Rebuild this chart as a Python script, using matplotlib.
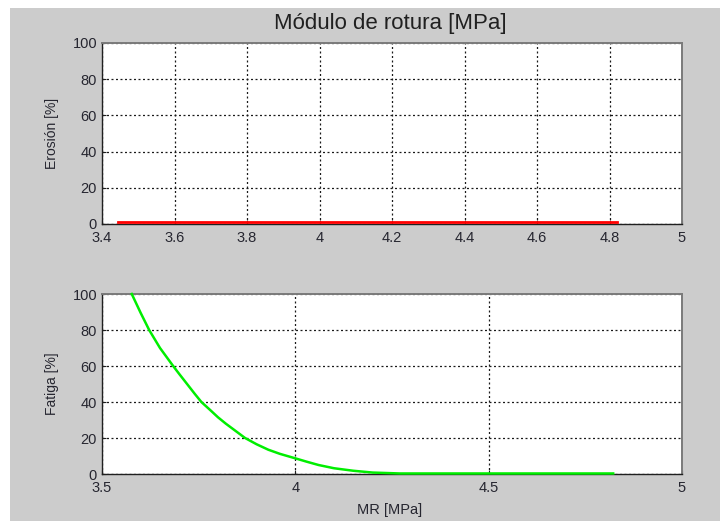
import matplotlib
matplotlib.use("Agg")
import matplotlib.pyplot as plt
from matplotlib.patches import Rectangle

plt.rcParams['font.family'] = ['Liberation Sans', 'DejaVu Sans']

# Data
mr_erosion = [3.443, 4.822]
erosion = [1.2, 1.2]

mr_fatiga = [3.577, 3.600, 3.622, 3.650, 3.684, 3.700, 3.720, 3.740, 3.757,
             3.780, 3.800, 3.820, 3.845, 3.870, 3.900, 3.930, 3.960, 4.000,
             4.030, 4.060, 4.100, 4.150, 4.200, 4.270, 4.500, 4.822]
fatiga = [100, 89.5, 80, 70, 60, 55.5, 50, 44.5, 40,
          35.5, 31.5, 28, 24, 20, 16.5, 13.5, 11.2, 8.7,
          6.8, 5.0, 3.2, 1.8, 0.8, 0.3, 0.3, 0.3]

top_xticks = [3.4, 3.6, 3.8, 4.0, 4.2, 4.4, 4.6, 4.8, 5.0]
top_xlabels = ['3.4', '3.6', '3.8', '4', '4.2', '4.4', '4.6', '4.8', '5']
bot_xticks = [3.5, 4.0, 4.5, 5.0]
bot_xlabels = ['3.5', '4', '4.5', '5']
yticks = [0, 20, 40, 60, 80, 100]

title = 'Módulo de rotura [MPa]'
ylabel_top = 'Erosión [%]'
ylabel_bot = 'Fatiga [%]'
xlabel_bot = 'MR [MPa]'

W, H = 720, 521
fig = plt.figure(figsize=(W / 100, H / 100), dpi=100, facecolor='#cccccc')
fig.patches.append(Rectangle((0, 0), 10 / W, 1, transform=fig.transFigure,
                             facecolor='white', edgecolor='none', zorder=-5))
fig.patches.append(Rectangle((0, 1 - 8 / H), 1, 8 / H, transform=fig.transFigure,
                             facecolor='white', edgecolor='none', zorder=-5))

left = 102 / W
width = 580 / W
ax1 = fig.add_axes([left, 1 - 224 / H, width, 181 / H])
ax2 = fig.add_axes([left, 1 - 474 / H, width, 180 / H])

txtcol = '#262630'


def style(ax):
    ax.set_facecolor('white')
    ax.set_ylim(0, 100)
    ax.set_yticks(yticks)
    ax.grid(True, color='#1a1a1a', linestyle=(0, (1.6, 2.0)), linewidth=0.9)
    ax.set_axisbelow(True)
    for s in ['bottom', 'left']:
        ax.spines[s].set_color('#202020')
        ax.spines[s].set_linewidth(1.0)
    for s in ['top', 'right']:
        ax.spines[s].set_color('#7a7a7a')
        ax.spines[s].set_linewidth(1.4)
    ax.tick_params(direction='in', length=3, width=0.8, colors='#202020',
                   labelcolor=txtcol, labelsize=10.5, pad=3.6)
    ax.tick_params(axis='x', pad=5)


style(ax1)
ax1.set_xlim(3.4, 5.0)
ax1.set_xticks(top_xticks)
ax1.set_xticklabels(top_xlabels)
ax1.plot(mr_erosion, erosion, color='#ff0000', linewidth=2.0, clip_on=False, zorder=3)
ax1.set_ylabel(ylabel_top, fontsize=10, color=txtcol)
ax1.yaxis.set_label_coords(-0.074, 0.5)

style(ax2)
ax2.set_xlim(3.5, 5.0)
ax2.set_xticks(bot_xticks)
ax2.set_xticklabels(bot_xlabels)
ax2.plot(mr_fatiga, fatiga, color='#00ee00', linewidth=1.8, clip_on=False, zorder=3)
ax2.set_ylabel(ylabel_bot, fontsize=10, color=txtcol)
ax2.yaxis.set_label_coords(-0.074, 0.5)
ax2.set_xlabel(xlabel_bot, fontsize=10.5, color=txtcol)
ax2.xaxis.set_label_coords(0.495, -0.16)

fig.text(390 / W, 1 - 24 / H, title, fontsize=16, color='#202020',
         ha='center', va='center')

fig.savefig('out.png', dpi=100, facecolor=fig.get_facecolor())
